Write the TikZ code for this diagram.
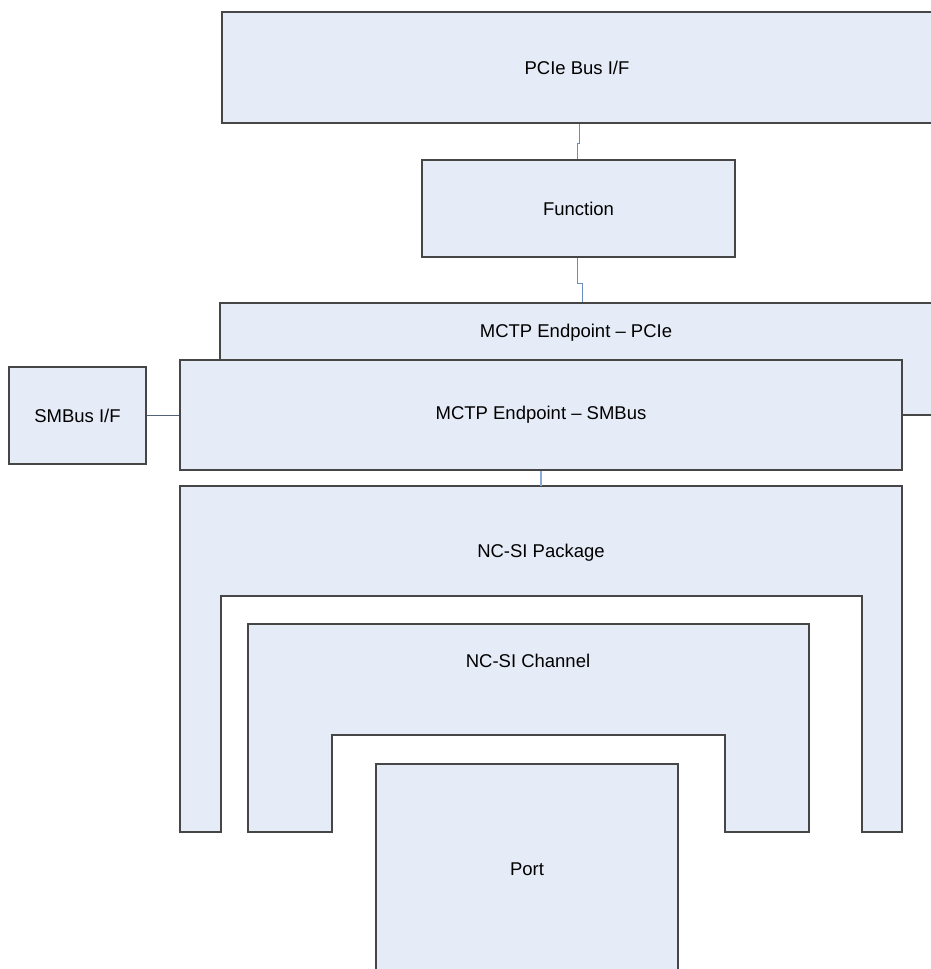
\documentclass[tikz,border=0pt]{standalone}
\usepackage{fontspec}
\setmainfont{Liberation Sans}
\usetikzlibrary{positioning}
\definecolor{boxfill}{RGB}{230,236,247}
\definecolor{boxline}{RGB}{70,70,70}
\definecolor{linkblue}{RGB}{105,140,196}
\definecolor{linklight}{RGB}{140,170,215}

\begin{document}
\begin{tikzpicture}[x=1pt, y=-1pt,
    every node/.style={font=\fontsize{18.5}{22}\selectfont},
    block/.style={
        rectangle,
        draw=boxline,
        fill=boxfill,
        line width=1.1pt,
        inner sep=0pt,
        align=center
    },
    shell/.style={draw=boxline, fill=boxfill, line width=1.1pt},
    link/.style={draw=linkblue, line width=0.9pt}]

    \useasboundingbox (0,0) rectangle (931,969);

    % Host side of the stack
    \node[block, minimum width=712pt, minimum height=111pt] (pciebus) at (578,67.5) {};
    \node (pciebustxt) at (577,67.5) {PCIe Bus I/F};
    \node[block, minimum width=313pt, minimum height=97pt] (function) at (578.5,208.5) {Function};

    % MCTP endpoints, the SMBus one lies over the PCIe one
    \node[block, minimum width=714pt, minimum height=112pt] (mctppcie) at (577,359) {};
    \node (mctppcietxt) at (576,333) {MCTP Endpoint -- PCIe};
    \node[block, minimum width=722pt, minimum height=110pt] (mctpsmb) at (541,415) {MCTP Endpoint -- SMBus};
    \node[block, minimum width=137pt, minimum height=97pt] (smbusif) at (77.5,415.5) {SMBus I/F};

    % NC-SI package and channel wrap round the port
    \draw[shell] (180,486) -- (902,486) -- (902,832) -- (862,832) -- (862,596)
        -- (221,596) -- (221,832) -- (180,832) -- cycle;
    \coordinate (pkgtop) at (541,486);
    \node (pkgtxt) at (541,553) {NC-SI Package};

    \draw[shell] (248,624) -- (809,624) -- (809,832) -- (725,832) -- (725,735)
        -- (332,735) -- (332,832) -- (248,832) -- cycle;
    \node (chantxt) at (528,661) {NC-SI Channel};

    \node[block, minimum width=302pt, minimum height=211pt] (port) at (527,869.5) {Port};

    % Links
    \draw[link] ([xshift=1pt]pciebus.south) -- ++(0,20) -| ([xshift=-1.5pt]function.north);
    \draw[link] ([xshift=-1.5pt]function.south) -- ++(0,26) -| ([xshift=5pt]mctppcie.north);
    \draw[link, draw=boxline!60!linkblue] (smbusif.east) -- (smbusif.east -| mctpsmb.west);
    \draw[link, draw=linklight, line width=1.6pt] (mctpsmb.south) -- (pkgtop);
\end{tikzpicture}
\end{document}
